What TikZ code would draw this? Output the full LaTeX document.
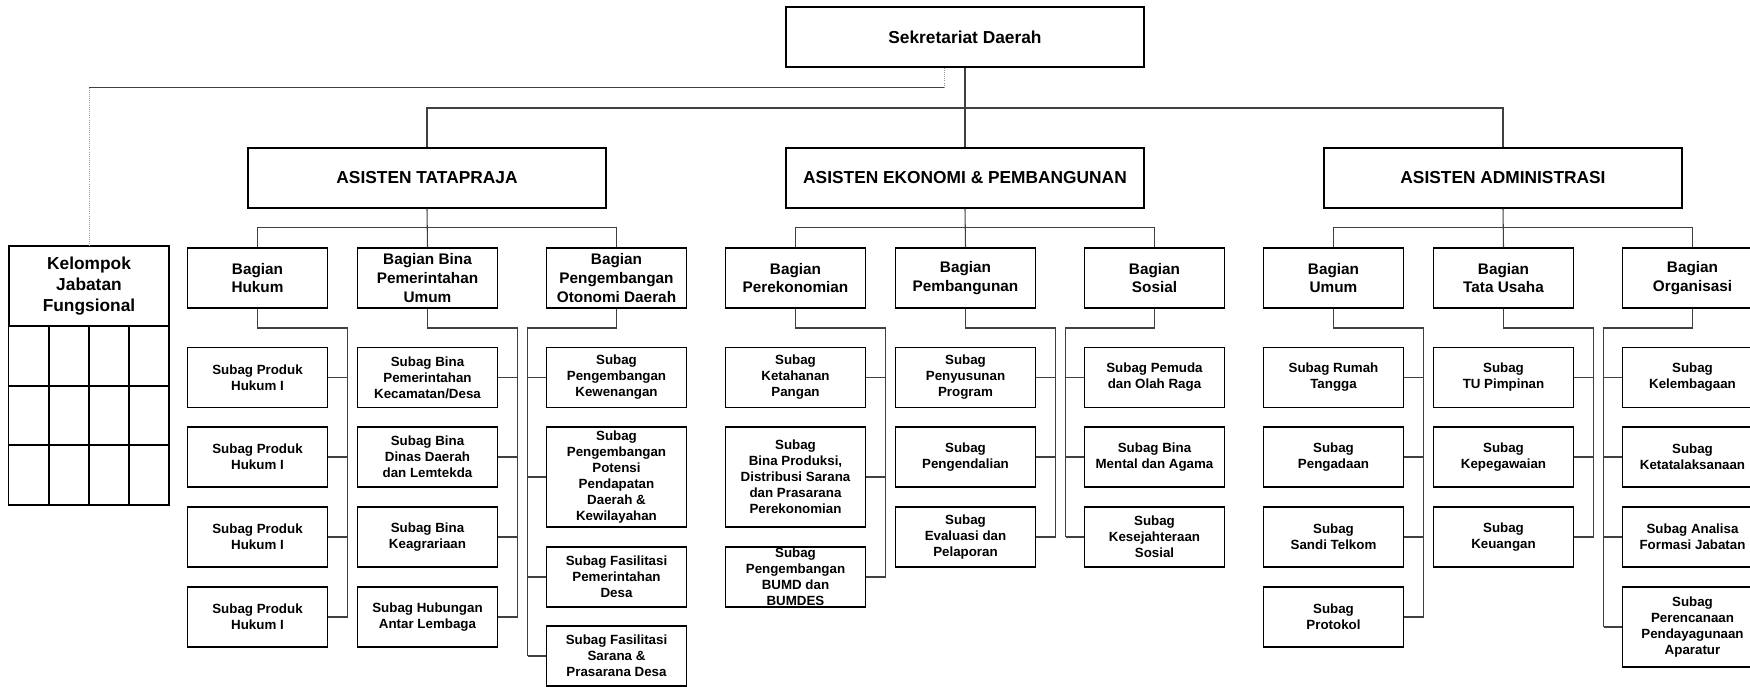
\documentclass[tikz,border=0pt]{standalone}
\usepackage{fontspec}
\setmainfont{Liberation Sans}

\begin{document}
\begin{tikzpicture}[x=0.75pt,y=0.75pt,yscale=-1,xscale=1,
  box/.style={draw=black,line width=0.9pt,fill=white,inner sep=0pt,align=center,
    font=\bfseries\fontsize{10}{12}\selectfont,minimum width=105pt,minimum height=45pt},
  bag/.style={box,font=\bfseries\fontsize{11.5}{14}\selectfont},
  asis/.style={box,minimum width=268.5pt,font=\bfseries\fontsize{13}{15.6}\selectfont},
  tallbox/.style={box,minimum height=75pt},
  conn/.style={draw=black!75,line width=0.8pt},
  dots/.style={draw=black!40,line width=0.6pt,densely dotted}]
\useasboundingbox (0,0) rectangle (1750,686);

% Top boxes
\node[asis] (sek) at (965,37) {Sekretariat Daerah};
\node[asis] (atp) at (427,178) {ASISTEN TATAPRAJA};
\node[asis] (aek) at (965,178) {ASISTEN EKONOMI \& PEMBANGUNAN};
\node[asis] (aad) at (1503,178) {ASISTEN ADMINISTRASI};

% Kelompok Jabatan Fungsional
\node[box,minimum width=120pt,minimum height=60pt,font=\bfseries\fontsize{13}{15.6}\selectfont] (kel) at (89,286) {Kelompok\\Jabatan\\Fungsional};
\draw[line width=0.9pt] (kel.south west) rectangle (169,505);
\foreach \x in {49,89,129} \draw[line width=0.9pt] (\x,326) -- (\x,505);
\foreach \y in {386,445} \draw[line width=0.9pt] (9,\y) -- (169,\y);

% Bagian
\node[bag] (bhuk) at (257.5,278) {Bagian\\Hukum};
\node[bag] (bpem) at (427.5,278) {Bagian Bina\\Pemerintahan\\Umum};
\node[bag] (bpod) at (616.5,278) {Bagian\\Pengembangan\\Otonomi Daerah};
\node[bag] (bekn) at (795.5,278) {Bagian\\Perekonomian};
\node[bag] (bpbg) at (965.5,278) {Bagian\\Pembangunan};
\node[bag] (bsos) at (1154.5,278) {Bagian\\Sosial};
\node[bag] (bumm) at (1333.5,278) {Bagian\\Umum};
\node[bag] (btu) at (1503.5,278) {Bagian\\Tata Usaha};
\node[bag] (borg) at (1692.5,278) {Bagian\\Organisasi};

% Subag Tatapraja
\node[box] (shuk1) at (257.5,377.5) {Subag Produk\\Hukum I};
\node[box] (shuk2) at (257.5,457) {Subag Produk\\Hukum I};
\node[box] (shuk3) at (257.5,537) {Subag Produk\\Hukum I};
\node[box] (shuk4) at (257.5,617) {Subag Produk\\Hukum I};
\node[box] (spem1) at (427.5,377.5) {Subag Bina\\Pemerintahan\\Kecamatan/Desa};
\node[box] (spem2) at (427.5,457) {Subag Bina\\Dinas Daerah\\dan Lemtekda};
\node[box] (spem3) at (427.5,537) {Subag Bina\\Keagrariaan};
\node[box] (spem4) at (427.5,617) {Subag Hubungan\\Antar Lembaga};
\node[box] (spod1) at (616.5,377.5) {Subag\\Pengembangan\\Kewenangan};
\node[tallbox] (spod2) at (616.5,477) {Subag\\Pengembangan\\Potensi\\Pendapatan\\Daerah \&\\Kewilayahan};
\node[box] (spod3) at (616.5,577) {Subag Fasilitasi\\Pemerintahan\\Desa};
\node[box] (spod4) at (616.5,656) {Subag Fasilitasi\\Sarana \&\\Prasarana Desa};

% Subag Ekonomi & Pembangunan
\node[box] (sekn1) at (795.5,377.5) {Subag\\Ketahanan\\Pangan};
\node[tallbox] (sekn2) at (795.5,477) {Subag\\Bina Produksi,\\Distribusi Sarana\\dan Prasarana\\Perekonomian};
\node[box] (sekn3) at (795.5,577) {Subag\\Pengembangan\\BUMD dan\\BUMDES};
\node[box] (spbg1) at (965.5,377.5) {Subag\\Penyusunan\\Program};
\node[box] (spbg2) at (965.5,457) {Subag\\Pengendalian};
\node[box] (spbg3) at (965.5,537) {Subag\\Evaluasi dan\\Pelaporan};
\node[box] (ssos1) at (1154.5,377.5) {Subag Pemuda\\dan Olah Raga};
\node[box] (ssos2) at (1154.5,457) {Subag Bina\\Mental dan Agama};
\node[box] (ssos3) at (1154.5,537) {Subag\\Kesejahteraan\\Sosial};

% Subag Administrasi
\node[box] (summ1) at (1333.5,377.5) {Subag Rumah\\Tangga};
\node[box] (summ2) at (1333.5,457) {Subag\\Pengadaan};
\node[box] (summ3) at (1333.5,537) {Subag\\Sandi Telkom};
\node[box] (summ4) at (1333.5,617) {Subag\\Protokol};
\node[box] (stu1) at (1503.5,377.5) {Subag\\TU Pimpinan};
\node[box] (stu2) at (1503.5,457) {Subag\\Kepegawaian};
\node[box] (stu3) at (1503.5,537) {Subag\\Keuangan};
\node[box] (sorg1) at (1692.5,377.5) {Subag\\Kelembagaan};
\node[box] (sorg2) at (1692.5,457) {Subag\\Ketatalaksanaan};
\node[box] (sorg3) at (1692.5,537) {Subag Analisa\\Formasi Jabatan};
\node[box,minimum height=60pt] (sorg4) at (1692.5,627) {Subag\\Perencanaan\\Pendayagunaan\\Aparatur};

% Lines from the top
\coordinate (tophub) at (965,108);
\coordinate (kelturn) at (944,87.5);
\draw[conn] (sek.south) -- (aek.north);
\draw[conn] (atp.north) -- (atp.north |- tophub) -- (aad.north |- tophub) -- (aad.north);
\draw[dots] (sek.south -| kelturn) -- (kelturn);
\draw[conn] (kelturn) -- (kelturn -| kel.north);
\draw[dots] (kelturn -| kel.north) -- (kel.north);

% Asisten to Bagian
\draw[conn] (atp.south) -- (bpem.north);
\draw[conn] (bhuk.north) -- ++(0,-20) -| (bpod.north);
\draw[conn] (aek.south) -- (bpbg.north);
\draw[conn] (bekn.north) -- ++(0,-20) -| (bsos.north);
\draw[conn] (aad.south) -- (btu.north);
\draw[conn] (bumm.north) -- ++(0,-20) -| (borg.north);

% Bagian to Subag
\coordinate (vhuk) at (347.5,328);
\coordinate (vpem) at (517.5,328);
\coordinate (vpod) at (527.5,328);
\coordinate (vekn) at (885.5,328);
\coordinate (vpbg) at (1055.5,328);
\coordinate (vsos) at (1065.5,328);
\coordinate (vumm) at (1423.5,328);
\coordinate (vtu) at (1593.5,328);
\coordinate (vorg) at (1603.5,328);

\draw[conn] (bhuk.south) |- (vhuk) -- (vhuk |- shuk4.east);
\foreach \i in {1,...,4} \draw[conn] (shuk\i.east) -- (shuk\i.east -| vhuk);
\draw[conn] (bpem.south) |- (vpem) -- (vpem |- spem4.east);
\foreach \i in {1,...,4} \draw[conn] (spem\i.east) -- (spem\i.east -| vpem);
\draw[conn] (bpod.south) |- (vpod) -- (vpod |- spod4.west);
\foreach \i in {1,...,4} \draw[conn] (spod\i.west) -- (spod\i.west -| vpod);

\draw[conn] (bekn.south) |- (vekn) -- (vekn |- sekn3.east);
\foreach \i in {1,...,3} \draw[conn] (sekn\i.east) -- (sekn\i.east -| vekn);
\draw[conn] (bpbg.south) |- (vpbg) -- (vpbg |- spbg3.east);
\foreach \i in {1,...,3} \draw[conn] (spbg\i.east) -- (spbg\i.east -| vpbg);
\draw[conn] (bsos.south) |- (vsos) -- (vsos |- ssos3.west);
\foreach \i in {1,...,3} \draw[conn] (ssos\i.west) -- (ssos\i.west -| vsos);

\draw[conn] (bumm.south) |- (vumm) -- (vumm |- summ4.east);
\foreach \i in {1,...,4} \draw[conn] (summ\i.east) -- (summ\i.east -| vumm);
\draw[conn] (btu.south) |- (vtu) -- (vtu |- stu3.east);
\foreach \i in {1,...,3} \draw[conn] (stu\i.east) -- (stu\i.east -| vtu);
\draw[conn] (borg.south) |- (vorg) -- (vorg |- sorg4.west);
\foreach \i in {1,...,4} \draw[conn] (sorg\i.west) -- (sorg\i.west -| vorg);

\end{tikzpicture}
\end{document}
